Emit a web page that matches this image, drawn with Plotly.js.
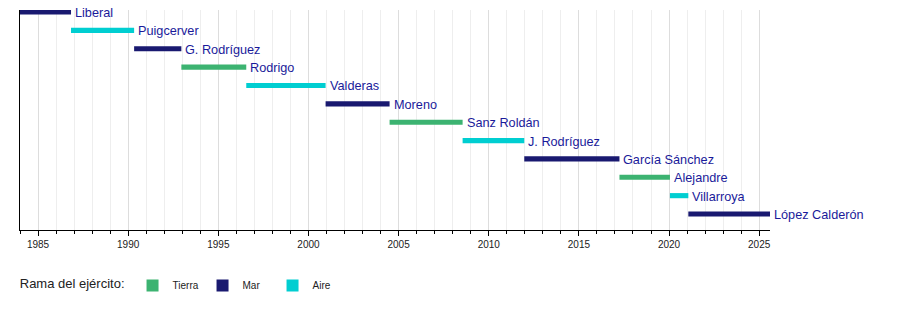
<!DOCTYPE html>
<html>
<head>
<meta charset="utf-8">
<script src="https://cdn.plot.ly/plotly-3.0.1.min.js"></script>
<style>html,body{margin:0;padding:0;background:#fff;}#chart{width:900px;height:310px;}</style>
</head>
<body>
<div id="chart"></div>
<script>
const names = ["Liberal","Puigcerver","G. Rodríguez","Rodrigo","Valderas","Moreno","Sanz Roldán","J. Rodríguez","García Sánchez","Alejandre","Villarroya","López Calderón"];
const starts = [1984.0,1986.83,1990.33,1992.95,1996.55,2000.95,2004.5,2008.55,2011.97,2017.25,2020.05,2021.07];
const ends =   [1986.83,1990.33,1992.95,1996.55,2000.95,2004.5,2008.55,2011.97,2017.25,2020.05,2021.07,2025.6];
const branch = ["Mar","Aire","Mar","Tierra","Aire","Mar","Tierra","Aire","Mar","Tierra","Aire","Mar"];
const branches = ["Tierra","Mar","Aire"];
const branchColors = {"Tierra":"#3cb371","Mar":"#191970","Aire":"#00ced1"};

const font = "Liberation Sans, Arial, sans-serif";
const traces = branches.map(b => {
  const idx = names.map((n,i)=>i).filter(i => branch[i] === b);
  return {
    type: 'bar', orientation: 'h', name: b,
    y: idx.map(i => names[i]),
    base: idx.map(i => starts[i]),
    x: idx.map(i => ends[i] - starts[i]),
    width: 0.28,
    marker: {color: branchColors[b], line: {width: 0}},
    hoverinfo: 'skip'
  };
});

const annotations = names.map((n, i) => ({
  x: ends[i], y: n, xref: 'x', yref: 'y', text: n, showarrow: false,
  xanchor: 'left', yanchor: 'middle', xshift: 2, yshift: -1,
  font: {family: font, size: 12.7, color: '#1a1a9a'}
}));

const layout = {
  width: 900, height: 310,
  margin: {l: 20, r: 130, t: 10, b: 80},
  paper_bgcolor: '#fff', plot_bgcolor: '#fff',
  barmode: 'overlay',
  font: {family: font, color: '#222'},
  annotations: annotations,
  xaxis: {
    range: [1984, 2025.6], tick0: 1985, dtick: 5,
    showline: true, linecolor: '#000', linewidth: 1,
    ticks: 'outside', ticklen: 5, tickcolor: '#000',
    showgrid: true, gridcolor: '#dddddd', zeroline: false,
    tickfont: {family: font, size: 10, color: '#222'},
    minor: {dtick: 1, ticks: 'outside', ticklen: 3, tickcolor: '#000', showgrid: true, gridcolor: '#eeeeee'}
  },
  yaxis: {
    type: 'category', categoryorder: 'array', categoryarray: names,
    range: [11.87, -0.11],
    showline: true, linecolor: '#000', linewidth: 1,
    showticklabels: false, ticks: '', showgrid: false, zeroline: false
  },
  showlegend: true,
  legend: {
    orientation: 'h', x: -0.003, xanchor: 'left', y: -0.252, yanchor: 'middle',
    title: {text: 'Rama del ejército:', side: 'left', font: {family: font, size: 13, color: '#222'}},
    font: {family: font, size: 10, color: '#222'},
    entrywidth: 25, entrywidthmode: 'pixels',
    traceorder: 'normal', itemclick: false, itemdoubleclick: false
  }
};
Plotly.newPlot('chart', traces, layout, {displayModeBar: false, staticPlot: true});
</script>
</body>
</html>
